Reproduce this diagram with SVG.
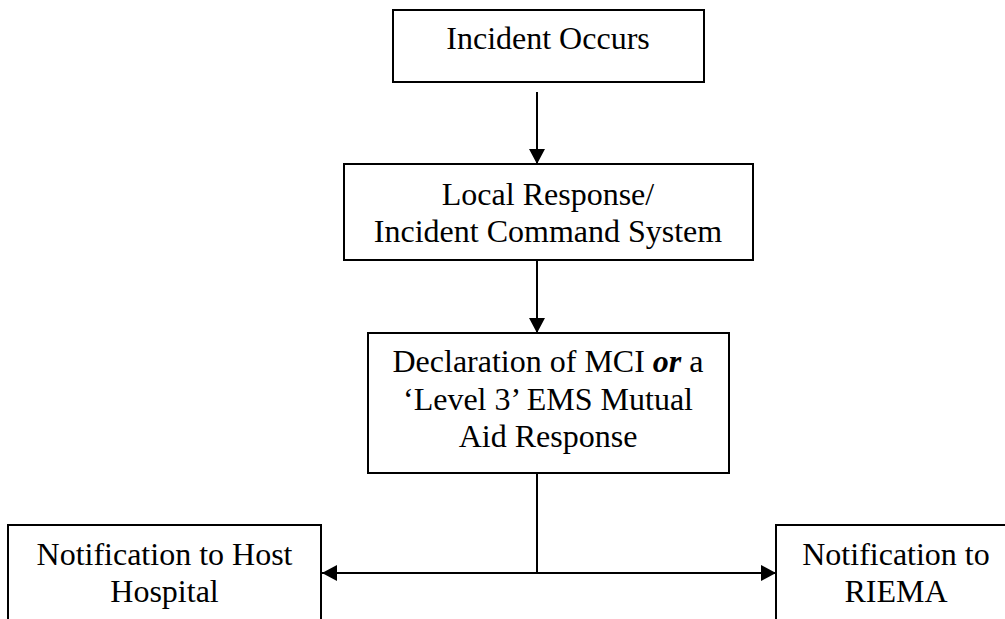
<svg xmlns="http://www.w3.org/2000/svg" width="1005" height="619" viewBox="0 0 1005 619">
<style>
.box{fill:#fff;stroke:#000;stroke-width:2}
.t{font-family:"Liberation Serif","Times New Roman",serif;font-size:32px;fill:#000;text-anchor:middle}
.c{stroke:#000;stroke-width:2;fill:none}
</style>
<defs>
<marker id="ah" markerUnits="userSpaceOnUse" markerWidth="18" markerHeight="18" refX="15" refY="8" orient="auto">
<path d="M0,0 L15,8 L0,16 Z" fill="#000"/>
</marker>
</defs>
<rect width="1005" height="619" fill="#fff"/>
<g id="connectors">
<line class="c" x1="537" y1="92" x2="537" y2="164" marker-end="url(#ah)"/>
<line class="c" x1="537" y1="260" x2="537" y2="333" marker-end="url(#ah)"/>
<line class="c" x1="537" y1="473" x2="537" y2="573"/>
<line class="c" x1="537" y1="573" x2="322" y2="573" marker-end="url(#ah)"/>
<line class="c" x1="537" y1="573" x2="776" y2="573" marker-end="url(#ah)"/>
</g>
<g id="n1">
<rect class="box" x="393" y="10" width="311" height="72"/>
<text class="t" x="548" y="49">Incident Occurs</text>
</g>
<g id="n2">
<rect class="box" x="344" y="164" width="409" height="96"/>
<text class="t" x="548" y="205">Local Response/</text>
<text class="t" x="548" y="242">Incident Command System</text>
</g>
<g id="n3">
<rect class="box" x="368" y="333" width="361" height="140"/>
<text class="t" x="548" y="372">Declaration of MCI <tspan font-weight="bold" font-style="italic">or</tspan> a</text>
<text class="t" x="548" y="410">‘Level 3’ EMS Mutual</text>
<text class="t" x="548" y="447">Aid Response</text>
</g>
<g id="n4">
<rect class="box" x="8" y="525" width="313" height="110"/>
<text class="t" x="164.5" y="565">Notification to Host</text>
<text class="t" x="164.5" y="602">Hospital</text>
</g>
<g id="n5">
<rect class="box" x="776" y="525" width="240" height="110"/>
<text class="t" x="896" y="565">Notification to</text>
<text class="t" x="896" y="602">RIEMA</text>
</g>
</svg>
